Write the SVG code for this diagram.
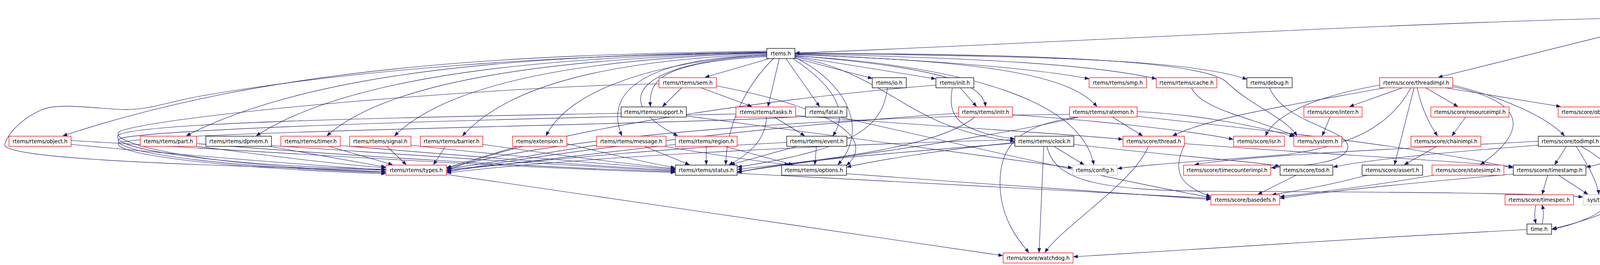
<svg xmlns="http://www.w3.org/2000/svg" width="4688" height="679" viewBox="0 0 4688 679">
<style>
.node rect{fill:#ffffff;stroke-width:1.3}
.b rect{stroke:#000000}
.r rect{stroke:#ff0000}
.g rect{stroke:#bfbfbf}
.root rect{fill:#bfbfbf;stroke:#404040}
text{font-family:"DejaVu Sans","Liberation Sans",sans-serif;font-size:13.33px;text-anchor:middle;fill:#000000}
.root text{text-anchor:start}
#edges path{fill:none;stroke:#191970;stroke-width:1.1;marker-end:url(#arr)}
</style>
<defs>
<marker id="arr" viewBox="0 0 10 8" refX="10" refY="4" markerWidth="11" markerHeight="9" markerUnits="userSpaceOnUse" orient="auto">
<path d="M0,0 L10,4 L0,8 z" fill="#191970" stroke="#191970" stroke-width="0.5"/>
</marker>
</defs>
<rect x="0" y="0" width="4688" height="679" fill="#ffffff"/>
<g id="edges">
<path d="M4196,45 C3500,62 2700,110 2036,136"/>
<path d="M4196,70 L3682,198"/>
<path d="M4276,75 C4258,150 4250,290 4100,349"/>
<path d="M4294,75 C4262,200 4275,390 4061,428"/>
<path d="M4311,75 C4312,250 4300,400 4130,498"/>
<path d="M4328,75 C4360,250 4370,500 3974,586"/>
<path d="M4361,75 L4418,123"/>
<path d="M4408,75 L4548,123"/>
<path d="M4426,54 C4580,75 4665,120 4640,198"/>
<path d="M4586,150 L4612,198"/>
<path d="M4658,205 C4688,195 4688,232 4660,222"/>
<path d="M1963,131 C1300,140 700,170 161,348"/>
<path d="M1963,133 C1350,142 800,180 477,348"/>
<path d="M1963,134 C1400,145 900,190 656,348"/>
<path d="M1963,135 C1450,148 1000,200 837,348"/>
<path d="M1963,136 C1500,150 1150,210 1010,348"/>
<path d="M1963,138 C1550,155 1300,220 1184,348"/>
<path d="M1963,140 C1650,160 1450,240 1398,348"/>
<path d="M1963,141 C1620,150 1550,250 1592,348"/>
<path d="M1963,143 C1660,155 1540,250 1735,348"/>
<path d="M1963,135 C1400,140 900,180 520,245 C420,262 380,285 300,280 C220,275 150,265 110,280 C50,305 15,350 12,372 C20,400 300,420 987,436"/>
<path d="M1963,145 C1700,160 1660,200 1665,273"/>
<path d="M1970,150 L1805,198"/>
<path d="M1995,150 L1966,273"/>
<path d="M2012,150 L2098,273"/>
<path d="M1980,150 C1900,230 1860,330 1858,422"/>
<path d="M2030,150 C2120,210 2180,280 2132,348"/>
<path d="M2035,147 C2180,220 2220,340 2145,422"/>
<path d="M2035,149 L2233,201"/>
<path d="M2035,144 L2395,202"/>
<path d="M2035,142 C2350,170 2515,200 2523,273"/>
<path d="M2035,140 C2450,155 2730,180 2808,273"/>
<path d="M2035,146 C2280,190 2320,330 2597,362"/>
<path d="M2035,143 C2480,170 2770,260 2800,422"/>
<path d="M2035,139 C2400,155 2650,175 2788,202"/>
<path d="M2035,138 C2500,148 2800,165 2960,202"/>
<path d="M2035,137 C2700,143 3050,155 3192,203"/>
<path d="M2035,136 C2700,138 3080,158 3140,210 C3200,270 3290,300 3320,348"/>
<path d="M1687,215 C1300,220 450,290 310,335 C255,360 480,425 987,440"/>
<path d="M1745,225 L1696,273"/>
<path d="M1795,225 L1925,273"/>
<path d="M1834,220 C2150,280 2240,360 2167,424"/>
<path d="M1590,290 C1200,298 380,310 305,345 C265,375 500,422 987,434"/>
<path d="M1757,297 L2745,430"/>
<path d="M1884,292 C1500,300 420,325 306,355 C270,385 520,426 987,442"/>
<path d="M1982,300 L2060,348"/>
<path d="M1962,300 C1962,360 1910,400 1866,422"/>
<path d="M2037,296 C2300,318 2700,340 2874,357"/>
<path d="M2062,298 C1800,318 440,335 305,365 C275,392 540,430 987,445"/>
<path d="M2150,300 C2500,380 2850,460 3099,506"/>
<path d="M2272,225 C2260,320 2200,380 1888,428"/>
<path d="M2396,218 C2000,250 1400,330 1144,437"/>
<path d="M2458,225 L2500,273"/>
<path d="M2438,225 C2425,300 2450,335 2597,356"/>
<path d="M2495,300 C2400,380 2100,410 1888,434"/>
<path d="M2592,294 C2800,308 3050,335 3157,357"/>
<path d="M2454,290 C2000,320 1400,390 1144,441"/>
<path d="M2738,293 C2200,298 1500,335 1144,431"/>
<path d="M2762,300 C2500,360 2100,410 1888,440"/>
<path d="M2848,300 L2925,348"/>
<path d="M2760,300 C2600,320 2560,380 2560,470 C2560,560 2610,620 2634,647"/>
<path d="M2911,298 C3200,330 3600,370 3873,430"/>
<path d="M2911,286 C3050,292 3200,318 3312,350"/>
<path d="M3050,225 C3075,280 3200,300 3315,348"/>
<path d="M3250,225 C3290,320 3460,330 3450,380 C3440,420 3330,425 3254,430"/>
<path d="M3590,225 L3455,273"/>
<path d="M3650,225 L3732,273"/>
<path d="M3700,225 L3995,273"/>
<path d="M3719,218 C3850,250 3960,300 4005,348"/>
<path d="M3628,225 C3640,280 3660,320 3680,348"/>
<path d="M3620,225 L3570,422"/>
<path d="M3719,222 C3900,260 3920,330 3790,422"/>
<path d="M3545,225 C3300,270 3100,300 3002,348"/>
<path d="M3532,218 C3350,250 3260,300 3240,348"/>
<path d="M3612,225 C3560,320 3470,370 3300,395 C3100,412 2950,420 2861,432"/>
<path d="M3405,300 L3385,348"/>
<path d="M3752,300 L3717,348"/>
<path d="M3678,375 L3595,422"/>
<path d="M3938,372 C3700,390 3500,410 3413,428"/>
<path d="M3938,362 C3600,380 3200,398 3058,422"/>
<path d="M4010,375 L3980,422"/>
<path d="M4035,375 C4070,430 4090,470 4093,498"/>
<path d="M4047,375 C4170,440 4190,540 3973,588"/>
<path d="M3962,449 L3948,498"/>
<path d="M3990,449 L4065,498"/>
<path d="M3874,446 C3600,470 3400,490 3277,508"/>
<path d="M3670,449 C3550,470 3400,490 3277,504"/>
<path d="M3500,449 C3420,470 3330,488 3256,499"/>
<path d="M3318,449 L3220,498"/>
<path d="M3932,524 C3928,545 3928,558 3932,573"/>
<path d="M3948,574 C3952,555 3952,543 3948,525"/>
<path d="M3909,588 C3500,610 3000,640 2748,658"/>
<path d="M2940,375 C2900,470 2720,580 2675,647"/>
<path d="M3032,368 C3300,390 3700,410 3873,427"/>
<path d="M3032,372 C3010,420 3000,470 3099,503"/>
<path d="M2698,375 L2775,422"/>
<path d="M2672,375 L2660,647"/>
<path d="M2598,367 C2300,390 2000,415 1888,442"/>
<path d="M2598,358 C2200,368 1500,400 1144,443"/>
<path d="M2598,365 C2400,385 2250,410 2168,428"/>
<path d="M2680,375 C2700,460 2800,488 3100,490 C3600,492 3950,495 4052,505"/>
<path d="M2749,370 C3000,400 3200,412 3276,426"/>
<path d="M1887,444 C2400,470 2900,495 3099,508"/>
<path d="M2167,445 C2500,470 2900,498 3099,511"/>
<path d="M1143,447 L2567,655"/>
<path d="M2040,375 L1870,422"/>
<path d="M2090,375 L2086,422"/>
<path d="M2014,365 C1700,380 1400,410 1144,435"/>
<path d="M1527,372 C1400,390 1250,420 1144,432"/>
<path d="M1650,375 L1765,422"/>
<path d="M1700,375 C1850,400 1950,415 2020,422"/>
<path d="M1729,370 C1500,395 1300,420 1144,438"/>
<path d="M1808,375 L1808,422"/>
<path d="M1855,375 L2030,422"/>
<path d="M1325,375 L1143,430"/>
<path d="M1451,368 C1560,395 1650,415 1728,430"/>
<path d="M1140,375 L1110,422"/>
<path d="M1236,370 C1450,400 1600,420 1728,432"/>
<path d="M990,375 L1040,422"/>
<path d="M1052,372 C1300,400 1550,420 1728,434"/>
<path d="M842,375 L1005,422"/>
<path d="M871,373 C1200,400 1500,425 1728,436"/>
<path d="M690,375 L987,428"/>
<path d="M695,373 C1100,400 1450,425 1728,438"/>
<path d="M503,375 C700,400 850,420 987,430"/>
<path d="M503,368 C900,400 1400,430 1728,440"/>
<path d="M182,370 C500,400 750,420 987,436"/>
<path d="M182,360 C700,390 1300,430 1728,442"/>
</g>
<g id="n-root" class="node root"><rect x="4196" y="6" width="230" height="69"/>
<text x="4207" y="22">/mnt/data0/chrisj/rtems</text>
<text x="4207" y="37">/releases/rtems-release.git</text>
<text x="4207" y="52">/4.11.3/ws-rtems/rtems-4.11.3</text>
<text x="4207" y="67">/cpukit/libcsupport/src/__times.c</text></g>
<g id="n-rtems" class="node b"><rect x="1963" y="124" width="72" height="26"/><text x="1999" y="141.5">rtems.h</text></g>
<g id="n-systimes" class="node g"><rect x="4400" y="124" width="97" height="26"/><text x="4448.5" y="141.5">sys/times.h</text></g>
<g id="n-seterr" class="node b"><rect x="4521" y="124" width="113" height="26"/><text x="4577.5" y="141.5">rtems/seterr.h</text></g>
<g id="n-errno" class="node b"><rect x="4590" y="199" width="68" height="26"/><text x="4624" y="216.5">errno.h</text></g>
<g id="n-sem" class="node r"><rect x="1687" y="199" width="147" height="26"/><text x="1760.5" y="216.5">rtems/rtems/sem.h</text></g>
<g id="n-io" class="node b"><rect x="2233" y="199" width="87" height="26"/><text x="2276.5" y="216.5">rtems/io.h</text></g>
<g id="n-init" class="node b"><rect x="2396" y="199" width="97" height="26"/><text x="2444.5" y="216.5">rtems/init.h</text></g>
<g id="n-smp" class="node r"><rect x="2788" y="199" width="147" height="26"/><text x="2861.5" y="216.5">rtems/rtems/smp.h</text></g>
<g id="n-cache" class="node r"><rect x="2960" y="199" width="155" height="26"/><text x="3037.5" y="216.5">rtems/rtems/cache.h</text></g>
<g id="n-debug" class="node b"><rect x="3192" y="199" width="116" height="26"/><text x="3250" y="216.5">rtems/debug.h</text></g>
<g id="n-threadimpl" class="node r"><rect x="3532" y="199" width="187" height="26"/><text x="3625.5" y="216.5">rtems/score/threadimpl.h</text></g>
<g id="n-support" class="node b"><rect x="1590" y="274" width="167" height="26"/><text x="1673.5" y="291.5">rtems/rtems/support.h</text></g>
<g id="n-tasks" class="node r"><rect x="1884" y="274" width="153" height="26"/><text x="1960.5" y="291.5">rtems/rtems/tasks.h</text></g>
<g id="n-fatal" class="node b"><rect x="2062" y="274" width="106" height="26"/><text x="2115" y="291.5">rtems/fatal.h</text></g>
<g id="n-intr" class="node r"><rect x="2454" y="274" width="138" height="26"/><text x="2523" y="291.5">rtems/rtems/intr.h</text></g>
<g id="n-ratemon" class="node r"><rect x="2738" y="274" width="173" height="26"/><text x="2824.5" y="291.5">rtems/rtems/ratemon.h</text></g>
<g id="n-interr" class="node r"><rect x="3338" y="274" width="149" height="26"/><text x="3412.5" y="291.5">rtems/score/interr.h</text></g>
<g id="n-resourceimpl" class="node r"><rect x="3663" y="274" width="200" height="26"/><text x="3763" y="291.5">rtems/score/resourceimpl.h</text></g>
<g id="n-objectimpl" class="node r"><rect x="3989" y="274" width="183" height="26"/><text x="4080.5" y="291.5">rtems/score/objectimpl.h</text></g>
<g id="n-object" class="node r"><rect x="23" y="349" width="159" height="26"/><text x="102.5" y="366.5">rtems/rtems/object.h</text></g>
<g id="n-part" class="node r"><rect x="359" y="349" width="144" height="26"/><text x="431" y="366.5">rtems/rtems/part.h</text></g>
<g id="n-dpmem" class="node b"><rect x="527" y="349" width="168" height="26"/><text x="611" y="366.5">rtems/rtems/dpmem.h</text></g>
<g id="n-timer" class="node r"><rect x="719" y="349" width="152" height="26"/><text x="795" y="366.5">rtems/rtems/timer.h</text></g>
<g id="n-signal" class="node r"><rect x="895" y="349" width="157" height="26"/><text x="973.5" y="366.5">rtems/rtems/signal.h</text></g>
<g id="n-barrier" class="node r"><rect x="1076" y="349" width="160" height="26"/><text x="1156" y="366.5">rtems/rtems/barrier.h</text></g>
<g id="n-extension" class="node r"><rect x="1312" y="349" width="139" height="26"/><text x="1381.5" y="366.5">rtems/extension.h</text></g>
<g id="n-message" class="node r"><rect x="1527" y="349" width="178" height="26"/><text x="1616" y="366.5">rtems/rtems/message.h</text></g>
<g id="n-region" class="node r"><rect x="1729" y="349" width="158" height="26"/><text x="1808" y="366.5">rtems/rtems/region.h</text></g>
<g id="n-event" class="node b"><rect x="2014" y="349" width="154" height="26"/><text x="2091" y="366.5">rtems/rtems/event.h</text></g>
<g id="n-clock" class="node b"><rect x="2598" y="349" width="151" height="26"/><text x="2673.5" y="366.5">rtems/rtems/clock.h</text></g>
<g id="n-thread" class="node r"><rect x="2875" y="349" width="157" height="26"/><text x="2953.5" y="366.5">rtems/score/thread.h</text></g>
<g id="n-isr" class="node r"><rect x="3158" y="349" width="130" height="26"/><text x="3223" y="366.5">rtems/score/isr.h</text></g>
<g id="n-system" class="node r"><rect x="3312" y="349" width="123" height="26"/><text x="3373.5" y="366.5">rtems/system.h</text></g>
<g id="n-chainimpl" class="node r"><rect x="3612" y="349" width="179" height="26"/><text x="3701.5" y="366.5">rtems/score/chainimpl.h</text></g>
<g id="n-todimpl" class="node b"><rect x="3938" y="349" width="164" height="26"/><text x="4020" y="366.5">rtems/score/todimpl.h</text></g>
<g id="n-types" class="node r"><rect x="988" y="423" width="155" height="26"/><text x="1065.5" y="440.5">rtems/rtems/types.h</text></g>
<g id="n-status" class="node b"><rect x="1729" y="423" width="158" height="26"/><text x="1808" y="440.5">rtems/rtems/status.h</text></g>
<g id="n-options" class="node b"><rect x="2001" y="423" width="166" height="26"/><text x="2084" y="440.5">rtems/rtems/options.h</text></g>
<g id="n-config" class="node g"><rect x="2746" y="423" width="114" height="26"/><text x="2803" y="440.5">rtems/config.h</text></g>
<g id="n-timecounterimpl" class="node r"><rect x="3030" y="423" width="223" height="26"/><text x="3141.5" y="440.5">rtems/score/timecounterimpl.h</text></g>
<g id="n-tod" class="node b"><rect x="3277" y="423" width="135" height="26"/><text x="3344.5" y="440.5">rtems/score/tod.h</text></g>
<g id="n-assert" class="node b"><rect x="3487" y="423" width="155" height="26"/><text x="3564.5" y="440.5">rtems/score/assert.h</text></g>
<g id="n-statesimpl" class="node r"><rect x="3666" y="423" width="184" height="26"/><text x="3758" y="440.5">rtems/score/statesimpl.h</text></g>
<g id="n-timestamp" class="node b"><rect x="3874" y="423" width="186" height="26"/><text x="3967" y="440.5">rtems/score/timestamp.h</text></g>
<g id="n-basedefs" class="node r"><rect x="3100" y="499" width="176" height="26"/><text x="3188" y="516.5">rtems/score/basedefs.h</text></g>
<g id="n-timespec" class="node r"><rect x="3853" y="499" width="175" height="26"/><text x="3940.5" y="516.5">rtems/score/timespec.h</text></g>
<g id="n-systime" class="node g"><rect x="4053" y="499" width="90" height="26"/><text x="4098" y="516.5">sys/time.h</text></g>
<g id="n-time" class="node b"><rect x="3909" y="574" width="63" height="26"/><text x="3940.5" y="591.5">time.h</text></g>
<g id="n-watchdog" class="node r"><rect x="2568" y="648" width="179" height="26"/><text x="2657.5" y="665.5">rtems/score/watchdog.h</text></g>
</svg>
